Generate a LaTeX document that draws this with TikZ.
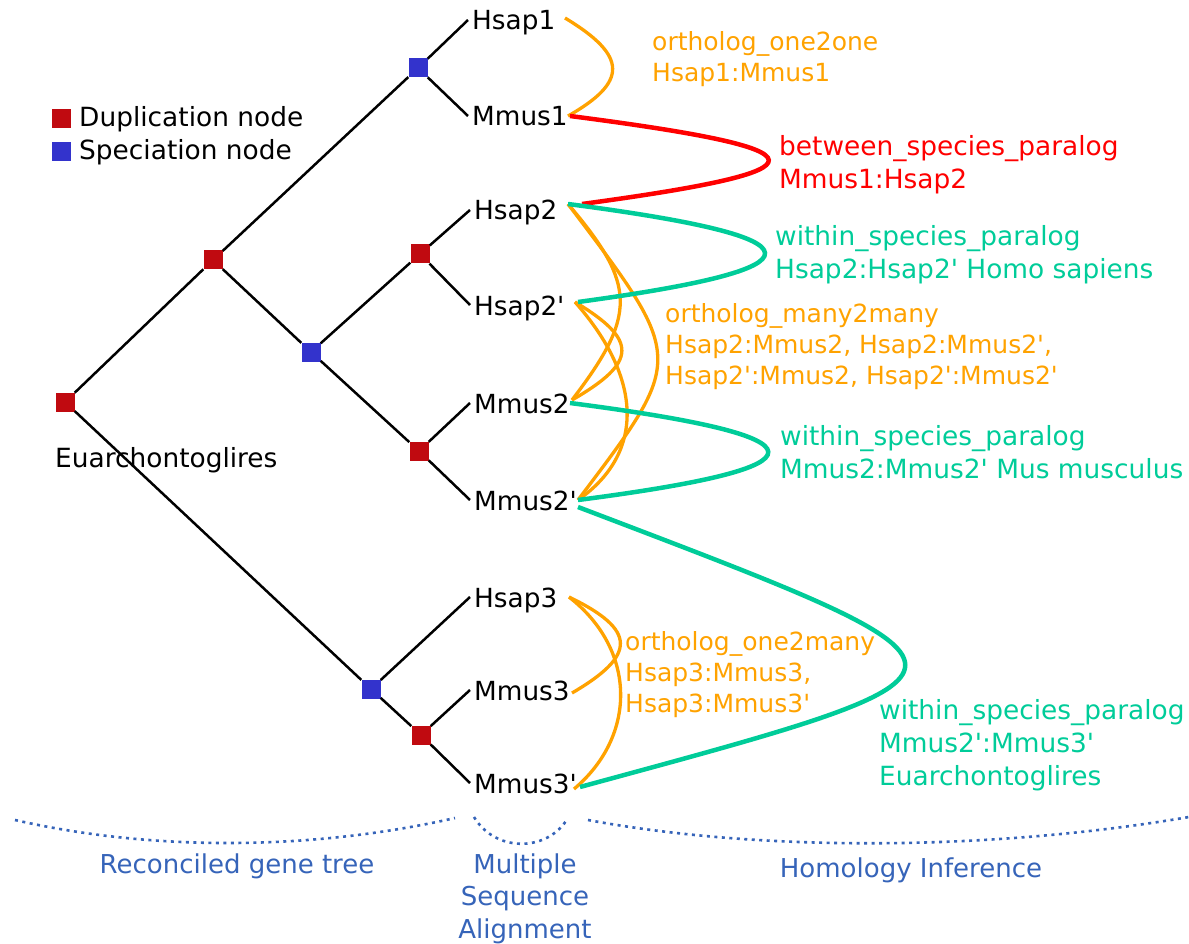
\documentclass[tikz,border=0pt]{standalone}
\usepackage{fontspec}
\setmainfont{DejaVu Sans}[Ligatures=TeXOff]
\definecolor{dupred}{RGB}{192,10,16}
\definecolor{specblue}{RGB}{51,51,204}
\definecolor{orth}{RGB}{255,162,0}
\definecolor{bsp}{RGB}{255,0,0}
\definecolor{wsp}{RGB}{0,204,153}
\definecolor{sect}{RGB}{54,100,185}
\begin{document}
\begin{tikzpicture}[x=1pt,y=-1pt,
  dupnode/.style={rectangle,fill=dupred,minimum size=19pt,inner sep=0pt},
  specnode/.style={rectangle,fill=specblue,minimum size=19pt,inner sep=0pt},
  leaf/.style={anchor=base west,inner xsep=4pt,inner ysep=0pt,text height=20pt,text depth=0pt,font=\fontsize{26.3}{33}\selectfont},
  txt/.style={anchor=base west,inner sep=0pt,align=left,font=\fontsize{26.4}{33}\selectfont},
  otxt/.style={anchor=base west,inner sep=0pt,align=left,text=orth,font=\fontsize{25}{31}\selectfont},
  bot/.style={anchor=base,inner sep=0pt,align=center,text=sect,font=\fontsize{26}{32.5}\selectfont},
  branch/.style={line width=2.5pt,black},
  orthline/.style={line width=3.3pt,orth},
  bspline/.style={line width=4.5pt,bsp},
  wspline/.style={line width=4.5pt,wsp},
  dotline/.style={line width=2.6pt,sect,dash pattern=on 3pt off 4.5pt}
]
\useasboundingbox (0,0) rectangle (1189,944);

% legend
\node[dupnode] (legdup) at (61,119) {};
\node[specnode] (legspec) at (61,152) {};
\node[txt] (legduptxt) at (79,127) {Duplication node};
\node[txt] (legspectxt) at (79,160) {Speciation node};

% tree internal nodes
\node[dupnode] (r0) at (65,402) {};
\node[dupnode] (d1) at (213,260) {};
\node[specnode] (s1) at (418,68) {};
\node[specnode] (s2) at (311,352) {};
\node[dupnode] (d2) at (420,254) {};
\node[dupnode] (d3) at (419,451) {};
\node[specnode] (s3) at (371,689) {};
\node[dupnode] (d4) at (421,735) {};
\node[txt] (clade) at (55,467) {Euarchontoglires};

% leaves
\node[leaf] (Hsap1) at (468,30) {Hsap1};
\node[leaf] (Mmus1) at (468,126) {Mmus1};
\node[leaf] (Hsap2) at (470,220) {Hsap2};
\node[leaf] (Hsap2p) at (470,315) {Hsap2'};
\node[leaf] (Mmus2) at (470,413) {Mmus2};
\node[leaf] (Mmus2p) at (470,510) {Mmus2'};
\node[leaf] (Hsap3) at (470,607) {Hsap3};
\node[leaf] (Mmus3) at (470,700) {Mmus3};
\node[leaf] (Mmus3p) at (470,793) {Mmus3'};

% branches
\draw[branch] (r0) -- (d1);
\draw[branch] (r0) -- (s3);
\draw[branch] (d1) -- (s1);
\draw[branch] (d1) -- (s2);
\draw[branch] (s2) -- (d2);
\draw[branch] (s2) -- (d3);
\draw[branch] (s1) -- (Hsap1.west);
\draw[branch] (s1) -- (Mmus1.west);
\draw[branch] (d2) -- (Hsap2.west);
\draw[branch] (d2) -- (Hsap2p.west);
\draw[branch] (d3) -- (Mmus2.west);
\draw[branch] (d3) -- (Mmus2p.west);
\draw[branch] (s3) -- (Hsap3.west);
\draw[branch] (s3) -- (d4);
\draw[branch] (d4) -- (Mmus3.west);
\draw[branch] (d4) -- (Mmus3p.west);

% attachment points
\coordinate (aH1) at (565,18);
\coordinate (aM1) at (568,116);
\coordinate (aM1b) at (570,116);
\coordinate (aH2) at (568,204);
\coordinate (aH2r) at (582,204);
\coordinate (aH2p) at (575,302);
\coordinate (aH2pg) at (578,302);
\coordinate (aM2) at (572,400);
\coordinate (aM2g) at (570,403);
\coordinate (aM2p) at (578,500);
\coordinate (aM2pb) at (578,507);
\coordinate (aH3) at (569,597);
\coordinate (aM3) at (572,693);
\coordinate (aM3p) at (574,789);
\coordinate (aM3pg) at (580,787);

% orthologs
\draw[orthline] (aH1) .. controls (628,56) and (628,82) .. (aM1);
\draw[orthline] (aH2) .. controls (637,285) and (637,315) .. (aM2);
\draw[orthline] (aH2) .. controls (686,360) and (686,357) .. (aM2p);
\draw[orthline] (aH2p) .. controls (638,340) and (638,362) .. (aM2);
\draw[orthline] (aH2p) .. controls (644,380) and (644,454) .. (aM2p);
\draw[orthline] (aH3) .. controls (637,630) and (637,655) .. (aM3);
\draw[orthline] (aH3) .. controls (637,650) and (637,736) .. (aM3p);

% paralogs
\draw[bspline] (aM1b) .. controls (833,150) and (833,170) .. (aH2r);
\draw[wspline] (aH2) .. controls (829,238) and (829,268) .. (aH2pg);
\draw[wspline] (aM2g) .. controls (833,437) and (833,467) .. (aM2p);
\draw[wspline] (aM2pb) .. controls (1014,673) and (1014,669) .. (aM3pg);

% annotations (base anchor = baseline of last line)
\node[otxt] (l1) at (652,82) {ortholog\_one2one\\Hsap1:Mmus1};
\node[txt,text=bsp] (l2) at (779,189) {between\_species\_paralog\\Mmus1:Hsap2};
\node[txt,text=wsp] (l3) at (775,279) {within\_species\_paralog\\Hsap2:Hsap2' Homo sapiens};
\node[otxt] (l4) at (665,384) {ortholog\_many2many\\Hsap2:Mmus2, Hsap2:Mmus2',\\Hsap2':Mmus2, Hsap2':Mmus2'};
\node[txt,text=wsp] (l5) at (780,478) {within\_species\_paralog\\Mmus2:Mmus2' Mus musculus};
\node[otxt] (l6) at (625,712) {ortholog\_one2many\\Hsap3:Mmus3,\\Hsap3:Mmus3'};
\node[txt,text=wsp] (l7) at (879,785) {within\_species\_paralog\\Mmus2':Mmus3'\\Euarchontoglires};

% sections
\draw[dotline] (15,820) .. controls (150,851) and (310,851) .. (455,818);
\draw[dotline] (474,817) .. controls (495,852) and (545,852) .. (566,821);
\draw[dotline] (588,820) .. controls (760,852) and (990,851) .. (1189,817);
\node[bot] (sec1) at (237,873) {Reconciled gene tree};
\node[bot] (sec2) at (525,938) {Multiple\\Sequence\\Alignment};
\node[bot] (sec3) at (911,877) {Homology Inference};
\end{tikzpicture}
\end{document}
